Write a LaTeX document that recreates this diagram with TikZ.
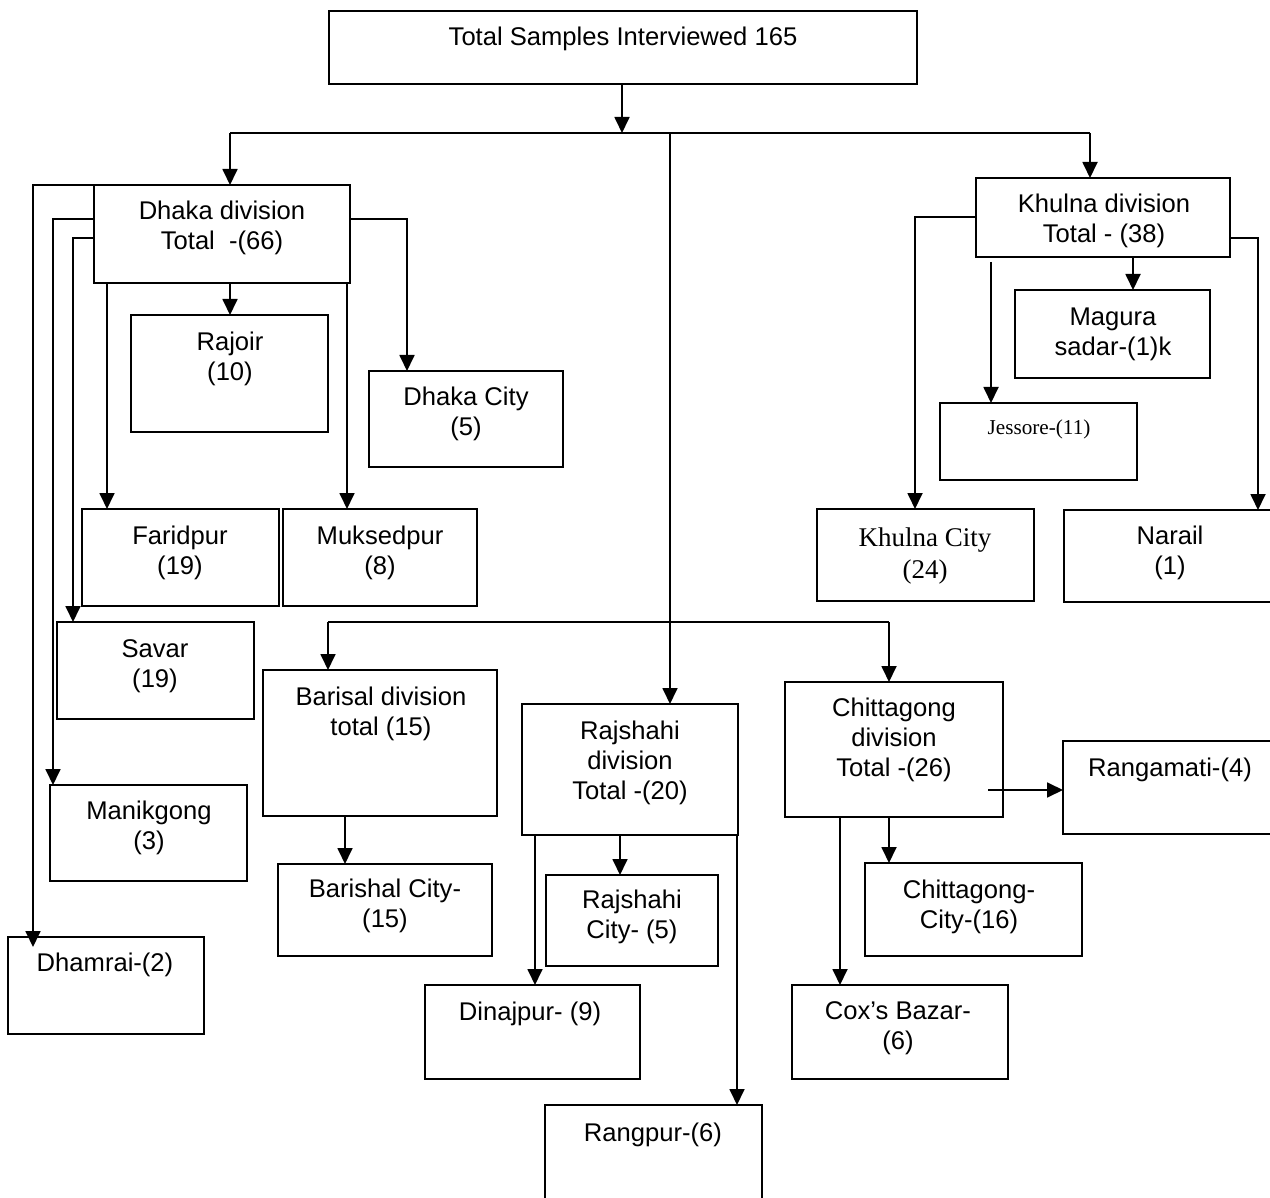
\documentclass[tikz,border=0pt]{standalone}
\usepackage{fontspec}
\setmainfont{Liberation Sans}
\newfontfamily\serifface{Liberation Serif}
\usetikzlibrary{arrows.meta}
\tikzset{
  box/.style={draw, line width=0.9pt, inner sep=0pt, outer sep=0pt},
  txt/.style={font=\fontsize{12.8}{15}\selectfont, align=center, inner sep=0pt, anchor=north},
  con/.style={line width=0.9pt, line join=miter},
  arr/.style={con, -{Triangle[length=8pt,width=7.5pt]}},
}
\newcommand\bx[5]{%
  \pgfmathsetmacro\bxw{(#4-#2)*0.5}%
  \pgfmathsetmacro\bxh{(#5-#3)*0.5}%
  \node[box, minimum width=\bxw pt, minimum height=\bxh pt] (#1) at ({(#2+#4)/2},{(#3+#5)/2}) {};}
\newcommand\tx[5][]{\node[txt,#1] (#2) at (#3,#4-9) {#5};}
\begin{document}
\begin{tikzpicture}[x=0.5pt,y=-0.5pt]
\fill[white] (0,0) rectangle (1270,1198);
\useasboundingbox (0,0) rectangle (1270,1198);
% boxes
\bx{top}{329}{11}{917}{84}
\bx{dhaka}{94}{185}{350}{283}
\bx{rajoir}{131}{315}{328}{432}
\bx{dcity}{369}{371}{563}{467}
\bx{farid}{82}{509}{279}{606}
\bx{muksed}{283}{509}{477}{606}
\bx{savar}{57}{622}{254}{719}
\bx{manik}{50}{785}{247}{881}
\bx{dhamrai}{8}{937}{204}{1034}
\bx{barisal}{263}{670}{497}{816}
\bx{bcity}{278}{864}{492}{956}
\bx{rajshahi}{522}{704}{738}{835}
\bx{rcity}{546}{875}{718}{966}
\bx{dinaj}{425}{985}{640}{1079}
\bx{rangpur}{545}{1105}{762}{1205}
\bx{chitta}{785}{682}{1003}{817}
\bx{ccity}{865}{863}{1082}{956}
\bx{cox}{792}{985}{1008}{1079}
\bx{ranga}{1063}{741}{1276}{834}
\bx{khulna}{976}{178}{1230}{257}
\bx{magura}{1015}{290}{1210}{378}
\bx{jessore}{940}{403}{1137}{480}
\bx{kcity}{817}{509}{1034}{601}
\bx{narail}{1064}{510}{1276}{602}
% texts
\tx{t-top}{623}{36}{Total Samples Interviewed 165}
\tx{t-dhaka}{222}{210}{Dhaka division\\Total\ \ -(66)}
\tx{t-rajoir}{230}{341}{Rajoir\\(10)}
\tx{t-dcity}{466}{396}{Dhaka City\\(5)}
\tx{t-farid}{180}{535}{Faridpur\\(19)}
\tx{t-muksed}{380}{535}{Muksedpur\\(8)}
\tx{t-savar}{155}{648}{Savar\\(19)}
\tx{t-manik}{149}{810}{Manikgong\\(3)}
\tx{t-dhamrai}{105}{962}{Dhamrai-(2)}
\tx{t-barisal}{381}{696}{Barisal division\\total (15)}
\tx{t-bcity}{385}{888}{Barishal City-\\(15)}
\tx{t-rajshahi}{630}{730}{Rajshahi\\division\\Total -(20)}
\tx{t-rcity}{632}{899}{Rajshahi\\City- (5)}
\tx{t-dinaj}{530}{1011}{Dinajpur- (9)}
\tx{t-rangpur}{653}{1132}{Rangpur-(6)}
\tx{t-chitta}{894}{707}{Chittagong\\division\\Total -(26)}
\tx{t-ccity}{969}{889}{Chittagong-\\City-(16)}
\tx{t-cox}{898}{1010}{Cox’s Bazar-\\(6)}
\tx{t-ranga}{1170}{767}{Rangamati-(4)}
\tx{t-khulna}{1104}{203}{Khulna division\\Total - (38)}
\tx{t-magura}{1113}{316}{Magura\\sadar-(1)k}
\tx[font=\serifface\fontsize{10.6}{13}\selectfont]{t-jessore}{1039}{428}{Jessore-(11)}
\tx[font=\serifface\fontsize{13.5}{16}\selectfont]{t-kcity}{925}{536}{Khulna City\\(24)}
\tx{t-narail}{1170}{535}{Narail\\(1)}
% junction coordinates
\coordinate (jl) at (230,133);
\coordinate (jm) at (670,133);
\coordinate (jr) at (1090,133);
\coordinate (bl) at (328,622);
\coordinate (br) at (889,622);
\coordinate (d1) at (33,185);
\coordinate (d2) at (53,219);
\coordinate (d3) at (73,238);
\coordinate (d4) at (107,0);
\coordinate (d5) at (347,0);
\coordinate (d6) at (407,219);
\coordinate (d7) at (230,0);
\coordinate (k1) at (1133,0);
\coordinate (k2) at (991,0);
\coordinate (k3) at (915,217);
\coordinate (k4) at (1258,238);
\coordinate (r1) at (620,0);
\coordinate (r2) at (535,0);
\coordinate (r3) at (737,0);
\coordinate (b1) at (345,0);
\coordinate (c2) at (840,0);
\coordinate (c3) at (988,790);
% top level
\draw[arr] (top.south -| 622,0) -- (622,133);
\draw[con] (jl) -- (jr);
\draw[arr] (jl) -- (jl |- dhaka.north);
\draw[arr] (jr) -- (jr |- khulna.north);
\draw[arr] (jm) -- (jm |- rajshahi.north);
\draw[con] (bl) -- (br);
\draw[arr] (bl) -- (bl |- barisal.north);
\draw[arr] (br) -- (br |- chitta.north);
% Dhaka
\draw[arr] (dhaka.north west) -- (d1) -- ([yshift=-5pt]d1 |- dhamrai.north);
\draw[arr] (d2 -| dhaka.west) -- (d2) -- (d2 |- manik.north);
\draw[arr] (d3 -| dhaka.west) -- (d3) -- (d3 |- savar.north);
\draw[arr] (d4 |- dhaka.south) -- (d4 |- farid.north);
\draw[arr] (d7 |- dhaka.south) -- (d7 |- rajoir.north);
\draw[arr] (d5 |- dhaka.south) -- (d5 |- muksed.north);
\draw[arr] (d6 -| dhaka.east) -- (d6) -- (d6 |- dcity.north);
% Khulna
\draw[arr] (k1 |- khulna.south) -- (k1 |- magura.north);
\draw[arr] ([yshift=-2.5pt]k2 |- khulna.south) -- (k2 |- jessore.north);
\draw[arr] (k3 -| khulna.west) -- (k3) -- (k3 |- kcity.north);
\draw[arr] (k4 -| khulna.east) -- (k4) -- (k4 |- narail.north);
% Barisal
\draw[arr] (b1 |- barisal.south) -- (b1 |- bcity.north);
% Rajshahi
\draw[arr] (r1 |- rajshahi.south) -- (r1 |- rcity.north);
\draw[arr] (r2 |- rajshahi.south) -- (r2 |- dinaj.north);
\draw[arr] (r3 |- rajshahi.south) -- (r3 |- rangpur.north);
% Chittagong
\draw[arr] (br |- chitta.south) -- (br |- ccity.north);
\draw[arr] (c2 |- chitta.south) -- (c2 |- cox.north);
\draw[arr] (c3) -- (c3 -| ranga.west);
\end{tikzpicture}
\end{document}
